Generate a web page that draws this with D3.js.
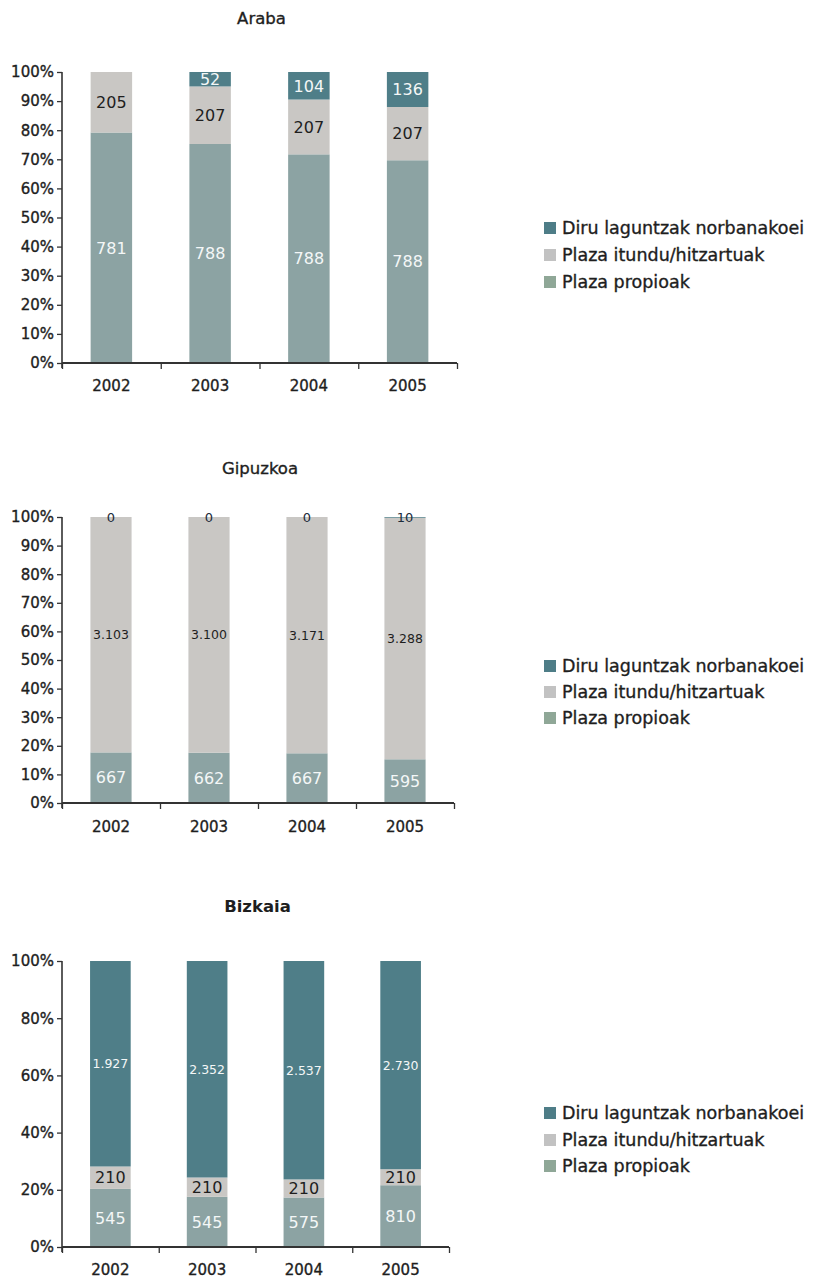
<!DOCTYPE html>
<html>
<head>
<meta charset="utf-8">
<script src="https://cdn.jsdelivr.net/npm/d3@7"></script>
<style>
  html, body { margin: 0; padding: 0; background: #fff; }
  svg { display: block; }
  text { font-family: "DejaVu Sans", sans-serif; }
  .thick { stroke: #1e1e1e; stroke-width: 0.35px; paint-order: stroke; }
</style>
</head>
<body>
<svg id="chart" width="813" height="1280"></svg>
<script>
// ---- DATA ----
const years = ["2002", "2003", "2004", "2005"];
const seriesNames = ["Diru laguntzak norbanakoei", "Plaza itundu/hitzartuak", "Plaza propioak"];

const arabaPropioak = [781, 788, 788, 788];
const arabaItundu   = [205, 207, 207, 207];
const arabaDiru     = [0, 52, 104, 136];

const gipuzkoaPropioak = [667, 662, 667, 595];
const gipuzkoaItundu   = [3103, 3100, 3171, 3288];
const gipuzkoaDiru     = [0, 0, 0, 10];

const bizkaiaPropioak = [545, 545, 575, 810];
const bizkaiaItundu   = [210, 210, 210, 210];
const bizkaiaDiru     = [1927, 2352, 2537, 2730];

const ticks10 = [0, .1, .2, .3, .4, .5, .6, .7, .8, .9, 1];
const ticks20 = [0, .2, .4, .6, .8, 1];

// ---- STYLE ----
const colors = { diru: "#4f7e88", itundu: "#c9c7c4", propioak: "#8ca3a3" };
const legendColors = { diru: "#4e7d87", itundu: "#c2c2c2", propioak: "#8fa797" };
const ink = "#1e1e1e";

const loc = d3.formatLocale({ decimal: ",", thousands: ".", grouping: [3], currency: ["", "€"] });
const fmt = loc.format(",d");

const svg = d3.select("#chart");

const panels = [
  { title: "Araba", titleY: 24, titleBold: false, top: 72, bottom: 363, x0: 62, x1: 457,
    propioak: arabaPropioak, itundu: arabaItundu, diru: arabaDiru, ticks: ticks10,
    yearY: 391, legendY: [228, 255, 282], smallFont: false, showZero: false },
  { title: "Gipuzkoa", titleY: 474, titleBold: false, top: 517, bottom: 803, x0: 62, x1: 454,
    propioak: gipuzkoaPropioak, itundu: gipuzkoaItundu, diru: gipuzkoaDiru, ticks: ticks10,
    yearY: 832, legendY: [666, 692, 718], smallFont: true, showZero: true },
  { title: "Bizkaia", titleY: 912, titleBold: true, top: 961, bottom: 1247, x0: 62, x1: 449,
    propioak: bizkaiaPropioak, itundu: bizkaiaItundu, diru: bizkaiaDiru, ticks: ticks20,
    yearY: 1275, legendY: [1113, 1140, 1166], smallFont: true, showZero: false }
];

panels.forEach(p => {
  const g = svg.append("g");
  const rows = years.map((yr, i) => ({ year: yr, propioak: p.propioak[i], itundu: p.itundu[i], diru: p.diru[i] }));
  const keys = ["propioak", "itundu", "diru"];
  const stacked = d3.stack().keys(keys).offset(d3.stackOffsetExpand)(rows);

  const x = d3.scaleBand().domain(years).range([p.x0, p.x1]).paddingInner(0.58).paddingOuter(0.29);
  const xb = d3.scaleLinear().domain([0, years.length]).range([p.x0, p.x1]);
  const y = d3.scaleLinear().domain([0, 1]).range([p.bottom, p.top]);

  // title
  g.append("text").attr("x", (p.x0 + p.x1) / 2 + 2).attr("y", p.titleY)
    .attr("text-anchor", "middle").attr("font-size", 16.5)
    .attr("class", p.titleBold ? null : "thick")
    .attr("font-weight", p.titleBold ? "bold" : "normal").attr("fill", ink).text(p.title);

  // bars
  stacked.forEach(s => {
    g.append("g").selectAll("rect").data(s).join("rect")
      .attr("x", d => x(d.data.year)).attr("width", x.bandwidth())
      .attr("y", d => y(d[1])).attr("height", d => Math.max(0, y(d[0]) - y(d[1])))
      .attr("fill", colors[s.key]);
  });

  // labels
  stacked.forEach(s => {
    g.append("g").selectAll("text")
      .data(s.filter(d => p.showZero || d.data[s.key] > 0)).join("text")
      .attr("x", d => x(d.data.year) + x.bandwidth() / 2)
      .attr("y", d => y((d[0] + d[1]) / 2))
      .attr("dy", "0.36em")
      .attr("text-anchor", "middle")
      .attr("font-size", d => {
        const v = d.data[s.key];
        if (p.smallFont && v >= 1000) return 12.5;
        if (y(d[0]) - y(d[1]) < 3) return 13;
        return 16;
      })
      .attr("fill", d => {
        const h = y(d[0]) - y(d[1]);
        if (h < 3) return "#1b2b3a";
        return s.key === "itundu" ? ink : "#f4f7f7";
      })
      .text(d => fmt(d.data[s.key]));
  });

  // y axis
  const yAxis = d3.axisLeft(y).tickValues(p.ticks).tickFormat(d3.format(".0%")).tickSize(5).tickPadding(3);
  const ga = g.append("g").attr("transform", `translate(${p.x0},0)`).call(yAxis);
  ga.select(".domain").attr("stroke", "#333").attr("stroke-width", 1.6)
    .attr("d", `M0,${p.top}V${p.bottom + 5}`);
  ga.selectAll(".tick line").attr("stroke", "#333").attr("stroke-width", 1.3);
  ga.selectAll(".tick text").attr("font-size", 15).attr("fill", ink).attr("class", "thick")
    .attr("font-family", "DejaVu Sans, sans-serif");

  // x axis: boundary ticks
  const xAxisB = d3.axisBottom(xb).tickValues(d3.range(years.length + 1)).tickFormat("").tickSize(6);
  const gx = g.append("g").attr("transform", `translate(0,${p.bottom})`).call(xAxisB);
  gx.select(".domain").attr("stroke", "#333").attr("stroke-width", 1.8).attr("d", `M${p.x0},0H${p.x1}`);
  gx.selectAll(".tick line").attr("stroke", "#333").attr("stroke-width", 1.3);

  // x axis labels
  const xAxisL = d3.axisBottom(x).tickSize(0).tickPadding(0);
  const gl = g.append("g").attr("transform", `translate(0,${p.yearY})`).call(xAxisL);
  gl.select(".domain").remove();
  gl.selectAll(".tick text").attr("font-size", 15).attr("fill", ink).attr("dy", 0).attr("class", "thick")
    .attr("font-family", "DejaVu Sans, sans-serif");

  // legend
  const lk = ["diru", "itundu", "propioak"];
  const lg = g.append("g");
  lk.forEach((k, i) => {
    lg.append("rect").attr("x", 544).attr("y", p.legendY[i] - 6).attr("width", 12).attr("height", 12)
      .attr("fill", legendColors[k]);
    lg.append("text").attr("x", 562).attr("y", p.legendY[i]).attr("dy", "0.36em").attr("class", "thick")
      .attr("font-size", 17.5).attr("fill", ink).text(seriesNames[i]);
  });
});
</script>
</body>
</html>
